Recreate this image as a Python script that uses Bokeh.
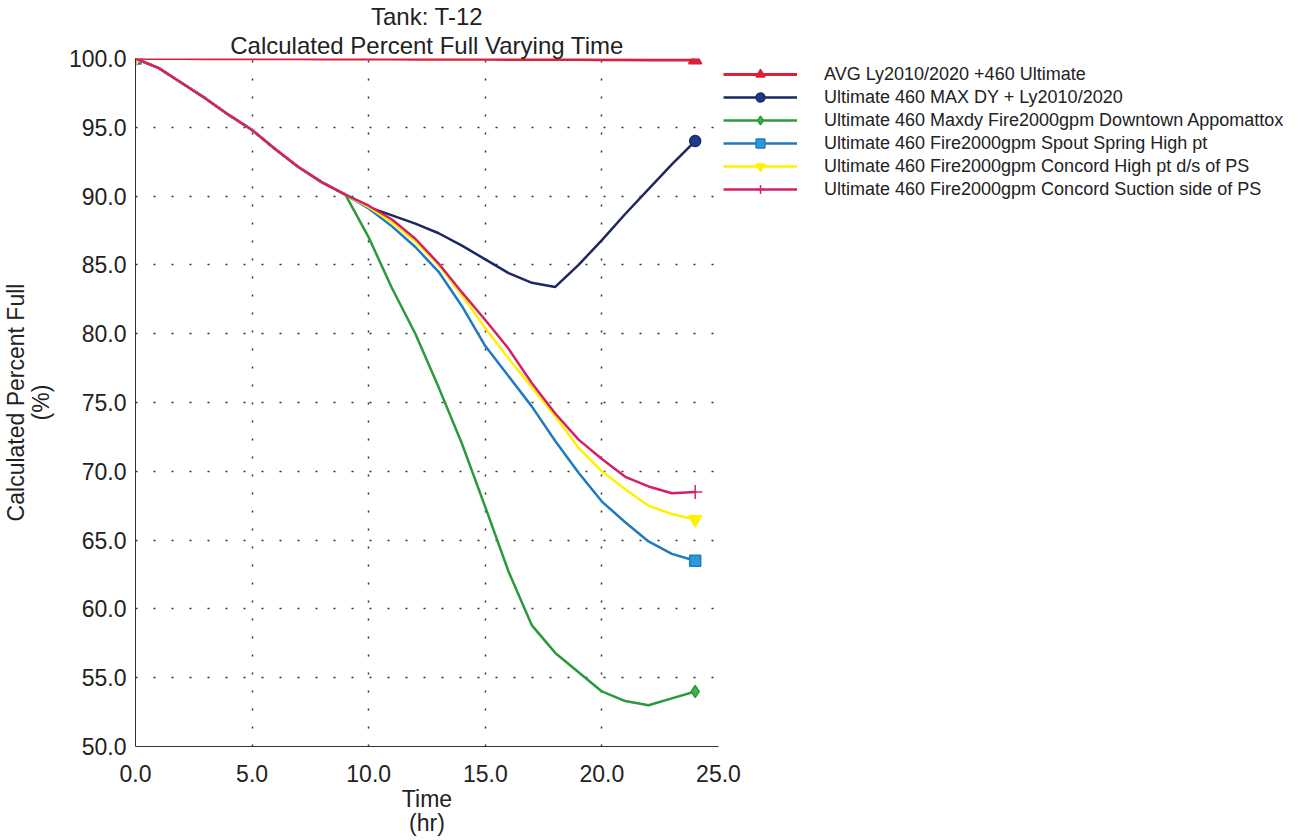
from bokeh.plotting import figure
from bokeh.models import Range1d, FixedTicker, NumeralTickFormatter, Legend, LegendItem, ColumnDataSource, Title
from bokeh.embed import file_html
from bokeh.resources import INLINE

# ---------------- data ----------------
time_hr = [0, 1, 2, 3, 4, 5, 6, 7, 8, 9, 10, 11, 12, 13, 14, 15, 16, 17, 18, 19, 20, 21, 22, 23, 24]

avg_ly = [100.0, 100.0, 100.0, 99.99, 99.99, 99.99, 99.98, 99.98, 99.97, 99.97, 99.96, 99.96, 99.95,
          99.95, 99.94, 99.94, 99.93, 99.93, 99.92, 99.92, 99.91, 99.91, 99.9, 99.9, 99.9]
max_dy = [100.0, 99.3, 98.2, 97.1, 95.9, 94.8, 93.4, 92.1, 91.0, 90.1, 89.2, 88.6, 88.0,
          87.3, 86.4, 85.4, 84.4, 83.7, 83.4, 85.0, 86.8, 88.7, 90.5, 92.3, 94.0]
fire_downtown = [100.0, 99.3, 98.2, 97.1, 95.9, 94.8, 93.4, 92.1, 91.0, 90.1, 87.0, 83.3, 80.0,
                 76.1, 72.0, 67.4, 62.7, 58.8, 56.8, 55.4, 54.0, 53.3, 53.0, 53.5, 54.0]
fire_spout = [100.0, 99.3, 98.2, 97.1, 95.9, 94.8, 93.4, 92.1, 91.0, 90.1, 89.1, 87.8, 86.3,
              84.5, 82.0, 79.1, 76.9, 74.7, 72.2, 69.9, 67.8, 66.3, 64.9, 64.0, 63.5]
fire_concord_high = [100.0, 99.3, 98.2, 97.1, 95.9, 94.8, 93.4, 92.1, 91.0, 90.1, 89.2, 88.1, 86.7,
                     85.0, 82.8, 80.4, 78.2, 76.1, 74.0, 71.7, 70.0, 68.7, 67.5, 66.9, 66.5]
fire_concord_suction = [100.0, 99.3, 98.2, 97.1, 95.9, 94.8, 93.4, 92.1, 91.0, 90.1, 89.3, 88.3, 86.9,
                        85.1, 83.0, 81.0, 78.9, 76.4, 74.2, 72.3, 70.9, 69.6, 68.9, 68.4, 68.5]

series_labels = [
    "AVG Ly2010/2020 +460 Ultimate",
    "Ultimate 460 MAX DY + Ly2010/2020",
    "Ultimate 460 Maxdy Fire2000gpm Downtown Appomattox",
    "Ultimate 460 Fire2000gpm Spout Spring High pt",
    "Ultimate 460 Fire2000gpm Concord High pt d/s of PS",
    "Ultimate 460 Fire2000gpm Concord Suction side of PS",
]
title_lines = ["Tank: T-12", "Calculated Percent Full Varying Time"]
x_ticks = [0, 5, 10, 15, 20, 25]
y_ticks = [50, 55, 60, 65, 70, 75, 80, 85, 90, 95, 100]

# ---------------- styles ----------------
series_values = [avg_ly, max_dy, fire_downtown, fire_spout, fire_concord_high, fire_concord_suction]
line_colors = ["#dc1f3a", "#1b2863", "#2a9a3c", "#1f7bbd", "#fff200", "#d4206a"]
fill_colors = ["#dc1f3a", "#1f3a8a", "#3cb44a", "#2a9ad8", "#fff200", "#d4206a"]
markers = ["triangle", "circle", "diamond", "square", "inverted_triangle", "cross"]
marker_sizes = [13, 11, 12, 11, 13, 14]
line_widths = [3, 2.5, 2.5, 2.5, 2.5, 2.5]

FONT = "Liberation Sans"
TXT = "#222222"

p = figure(frame_width=583, frame_height=688, output_backend="svg", toolbar_location=None,
           x_range=Range1d(0, 25), y_range=Range1d(50, 100),
           min_border_left=135, min_border_right=0, min_border_top=50, min_border_bottom=90)
p.outline_line_color = None
p.background_fill_color = "white"
p.border_fill_color = "white"

# two title lines, added nearest-first
for txt in reversed(title_lines):
    t = Title(text=txt, align="center", text_font=FONT, text_font_size="24px",
              text_font_style="normal", text_color=TXT, standoff=0, offset=0)
    p.add_layout(t, "above")

for ax, ticks in ((p.xaxis, x_ticks), (p.yaxis, y_ticks)):
    ax.ticker = FixedTicker(ticks=ticks)
    ax.formatter = NumeralTickFormatter(format="0.0")
    ax.major_tick_line_color = None
    ax.minor_tick_line_color = None
    ax.axis_line_color = "#333333"
    ax.axis_line_width = 1
    ax.major_label_text_font = FONT
    ax.major_label_text_font_size = "23px"
    ax.major_label_text_color = TXT
    ax.axis_label_text_font = FONT
    ax.axis_label_text_font_size = "23px"
    ax.axis_label_text_font_style = "normal"
    ax.axis_label_text_color = TXT
    ax.axis_label_text_line_height = 0.95

p.xaxis.axis_label = "Time\n(hr)"
p.yaxis.axis_label = "Calculated Percent Full\n(%)"
p.xaxis.major_label_standoff = 12
p.xaxis.axis_label_standoff = 1
p.yaxis.major_label_standoff = 3
p.yaxis.axis_label_standoff = 12

p.grid.grid_line_color = "#333333"
p.grid.grid_line_dash = "2 16"
p.grid.grid_line_width = 1.5

items = []
for label, vals, lc, fc, mk, ms, lw in zip(series_labels, series_values, line_colors, fill_colors,
                                           markers, marker_sizes, line_widths):
    src = ColumnDataSource(dict(x=time_hr, y=vals))
    end_src = ColumnDataSource(dict(x=[time_hr[0], time_hr[-1]], y=[vals[0], vals[-1]]))
    lr = p.line("x", "y", source=src, line_color=lc, line_width=lw)
    sr = p.scatter("x", "y", source=end_src, marker=mk, size=ms, fill_color=fc,
                   line_color=lc, line_width=1.5)
    items.append(LegendItem(label=label, renderers=[lr, sr]))

legend = Legend(items=items, location="top_left")
legend.border_line_color = None
legend.background_fill_alpha = 0
legend.padding = 0
legend.margin = 5
legend.spacing = 1
legend.glyph_width = 74
legend.glyph_height = 22
legend.label_height = 22
legend.label_standoff = 27
legend.label_text_font = FONT
legend.label_text_font_size = "18px"
legend.label_text_color = TXT
legend.label_text_baseline = "middle"
p.add_layout(legend, "right")

open("out.html", "w").write(file_html(p, INLINE))
